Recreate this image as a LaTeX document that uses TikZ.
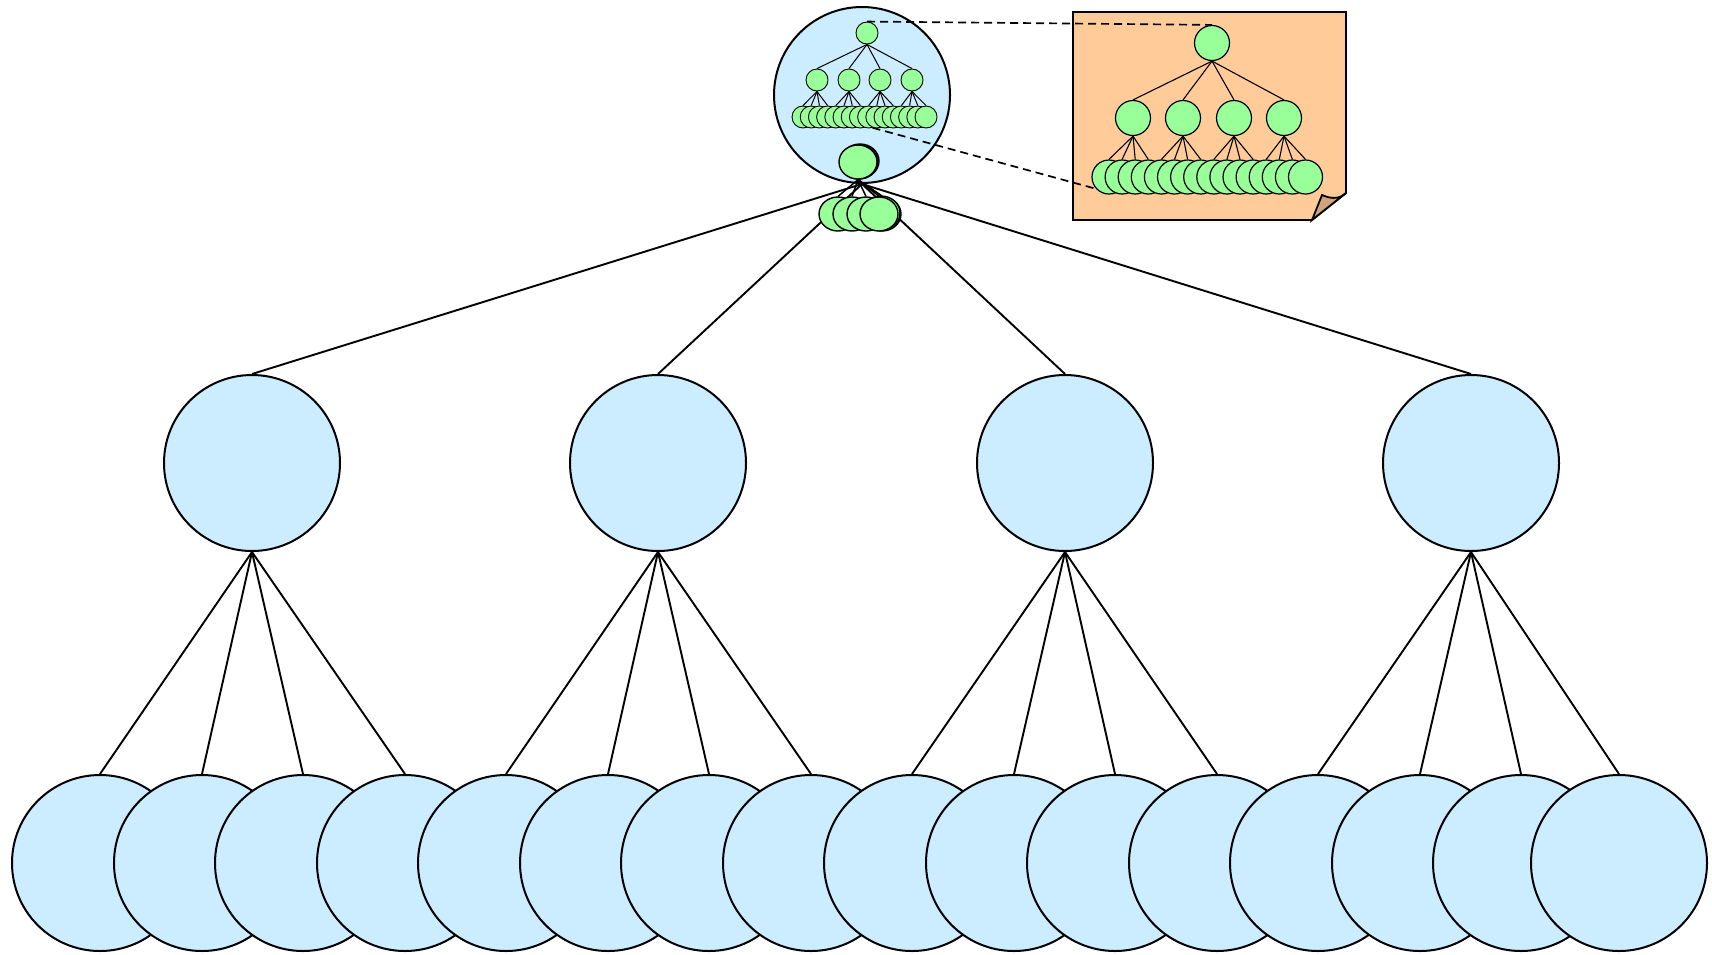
\documentclass[tikz,border=0pt]{standalone}
\usetikzlibrary{shapes.geometric}
\pgfdeclarelayer{edgelayer}
\pgfdeclarelayer{toplayer}
\pgfsetlayers{edgelayer,main,toplayer}

\definecolor{skyfill}{HTML}{CCECFF}
\definecolor{leaffill}{HTML}{99FF99}
\definecolor{notefill}{HTML}{FFCC99}
\definecolor{foldfill}{HTML}{CFA57B}

\tikzset{
  bigball/.style={circle,draw,fill=skyfill,line width=1pt,inner sep=0pt,minimum size=88pt},
  tinyleaf/.style={circle,draw,fill=leaffill,line width=0.45pt,inner sep=0pt,minimum size=11pt},
  noteleaf/.style={circle,draw,fill=leaffill,line width=0.6pt,inner sep=0pt,minimum size=#1},
  noteleaf/.default=17.5pt,
  stackleaf/.style={ellipse,draw,fill=leaffill,line width=0.7pt,inner sep=0pt,minimum width=19pt,minimum height=17pt},
  treeline/.style={line width=0.95pt},
  stackline/.style={line width=0.75pt},
  thinline/.style={line width=0.5pt},
  linkline/.style={dash pattern=on 4pt off 2.5pt,line width=0.85pt}
}

\begin{document}
\begin{tikzpicture}[x=0.5pt,y=-0.5pt]
\useasboundingbox (0,0) rectangle (1712,954);

% hub with its miniature tree
\node[bigball] (hub) at (862,95) {};
\node[tinyleaf] (r) at (867,33) {};
\foreach \x [count=\i] in {817,849,880,912}
  \node[tinyleaf] (m\i) at (\x,80) {};
\foreach \k in {0,...,15}
  \node[tinyleaf] (l\k) at ({803+8.2*\k},117) {};

% stacked leaves below the hub
\node[stackleaf] (g1) at (860,161) {};
\node[stackleaf] (g2) at (859,162) {};
\node[stackleaf] (g3) at (858,162) {};
\node[stackleaf] (b6) at (882,214) {};
\node[stackleaf] (b5) at (881,213) {};
\node[stackleaf] (b1) at (838,214) {};
\node[stackleaf] (b2) at (852,214) {};
\node[stackleaf] (b3) at (866,214) {};
\node[stackleaf] (b4) at (879,214) {};

% second level
\foreach \x [count=\i] in {252,658,1065,1471}
  \node[bigball] (a\i) at (\x,463) {};

% third level
\foreach \x [count=\k] in {100,202,303,405,506,608,709,811,912,1014,1115,1217,1318,1420,1521,1619}
  \node[bigball] (c\k) at (\x,863) {};

% note with folded corner
\draw[line width=0.9pt,fill=notefill] (1073,12) -- (1346,12) -- (1346,193) -- (1312,220) -- (1073,220) -- cycle;
\draw[line width=0.9pt,fill=foldfill] (1312,220) -- (1322,195) .. controls (1333,200) and (1341,198) .. (1346,193) -- cycle;

% enlarged tree inside the note
\node[noteleaf] (nr) at (1212,43) {};
\foreach \x [count=\i] in {1133,1183,1234,1284}
  \node[noteleaf] (nm\i) at (\x,118) {};
\foreach \k in {0,...,15}
  \node[noteleaf=17pt] (nl\k) at ({1109+13.1*\k},177) {};

% connectors between the levels
\begin{pgfonlayer}{edgelayer}
  \foreach \i in {1,...,4}
    \draw[treeline] (hub.south) -- (a\i.north);
  \foreach \i in {1,...,4}
    \foreach \j in {1,...,4} {
      \pgfmathtruncatemacro\k{4*(\i-1)+\j}
      \draw[treeline] (a\i.south) -- (c\k.north);
    }
\end{pgfonlayer}

\begin{pgfonlayer}{toplayer}
  % miniature tree edges
  \foreach \i in {1,...,4}
    \draw[thinline] (r.south) -- (m\i.north);
  \foreach \i in {1,...,4}
    \foreach \j in {0,...,3} {
      \pgfmathtruncatemacro\k{4*(\i-1)+\j}
      \draw[thinline] (m\i.south) -- (l\k.north);
    }
  % stack edges
  \foreach \i in {1,...,6}
    \draw[stackline] (g3.south) -- (b\i.north);
  % note tree edges
  \foreach \i in {1,...,4}
    \draw[line width=0.55pt] (nr.south) -- (nm\i.north);
  \foreach \i in {1,...,4}
    \foreach \j in {0,...,3} {
      \pgfmathtruncatemacro\k{4*(\i-1)+\j}
      \draw[line width=0.55pt] (nm\i.south) -- (nl\k.north);
    }
  % links from the miniature to the note
  \draw[linkline] (r.north) -- (nr.north);
  \draw[linkline] (l8.-70) -- (nl0.222);
\end{pgfonlayer}
\end{tikzpicture}
\end{document}
